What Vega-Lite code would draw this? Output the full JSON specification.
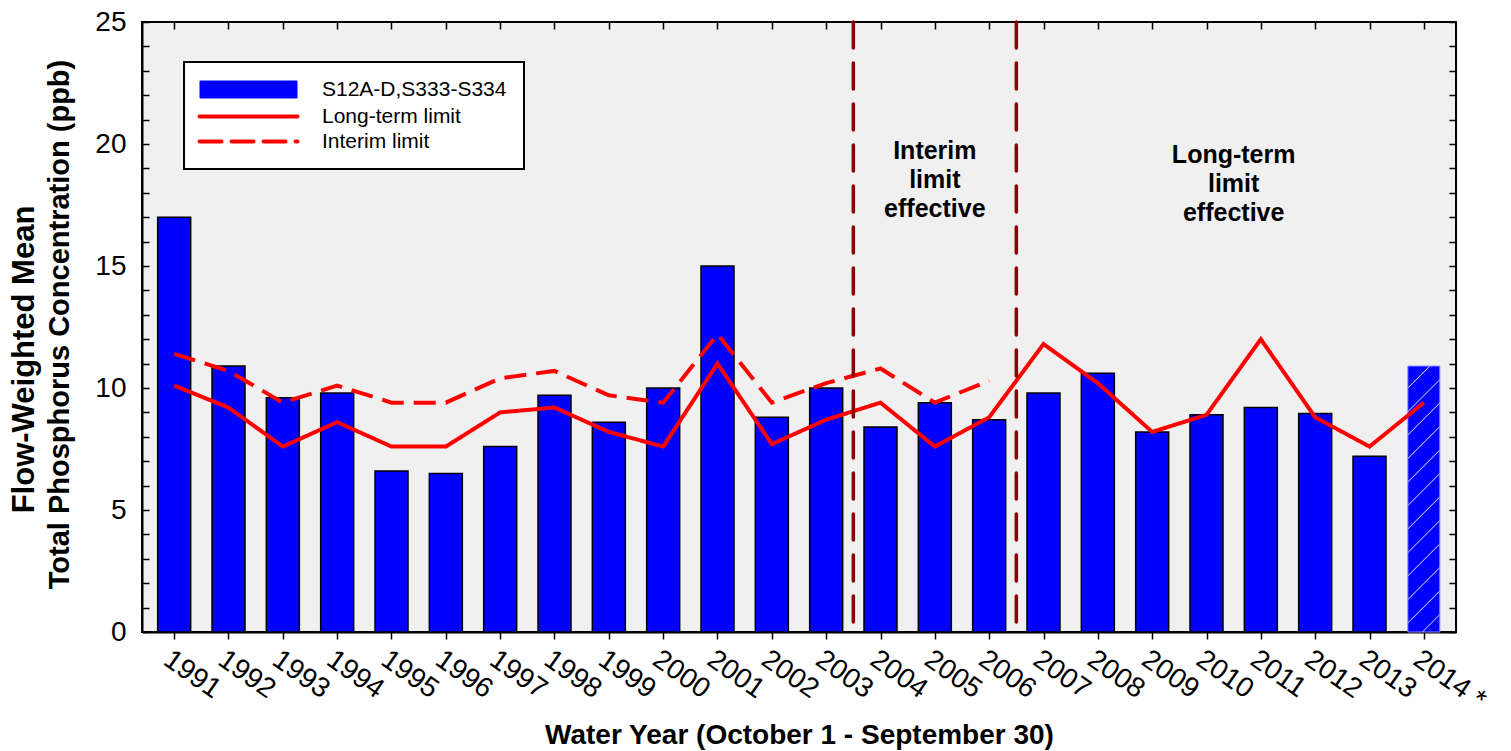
{
  "$schema": "https://vega.github.io/schema/vega-lite/v6.json",
  "width": 1314,
  "height": 610,
  "autosize": "none",
  "padding": {"left": 142, "top": 22, "right": 55, "bottom": 119},
  "background": "white",
  "config": {
    "view": {"fill": "#f0f0f0", "stroke": "black", "strokeWidth": 2},
    "font": "Liberation Sans",
    "axis": {"labelColor": "black", "titleColor": "black", "tickColor": "black", "domainColor": "black", "grid": false, "labelFont": "Liberation Sans", "titleFont": "Liberation Sans"},
    "legend": {
      "title": null, "orient": "none", "legendX": 42, "legendY": 40,
      "fillColor": "white", "strokeColor": "black", "padding": 17,
      "labelFont": "Liberation Sans", "labelFontSize": 21, "labelColor": "black", "labelLimit": 400,
      "symbolSize": 400, "symbolOffset": 37, "labelOffset": 63, "rowPadding": 3
    }
  },
  "datasets": {
    "tp": [
      {"year": 1991, "tp": 17.0}, {"year": 1992, "tp": 10.9}, {"year": 1993, "tp": 9.6}, {"year": 1994, "tp": 9.8},
      {"year": 1995, "tp": 6.6}, {"year": 1996, "tp": 6.5}, {"year": 1997, "tp": 7.6}, {"year": 1998, "tp": 9.7},
      {"year": 1999, "tp": 8.6}, {"year": 2000, "tp": 10.0}, {"year": 2001, "tp": 15.0}, {"year": 2002, "tp": 8.8},
      {"year": 2003, "tp": 10.0}, {"year": 2004, "tp": 8.4}, {"year": 2005, "tp": 9.4}, {"year": 2006, "tp": 8.7},
      {"year": 2007, "tp": 9.8}, {"year": 2008, "tp": 10.6}, {"year": 2009, "tp": 8.2}, {"year": 2010, "tp": 8.9},
      {"year": 2011, "tp": 9.2}, {"year": 2012, "tp": 8.95}, {"year": 2013, "tp": 7.2}, {"year": 2014, "tp": 10.9}
    ],
    "limits": [
      {"year": 1991, "series": "Long-term limit", "limit": 10.1},
      {"year": 1992, "series": "Long-term limit", "limit": 9.2},
      {"year": 1993, "series": "Long-term limit", "limit": 7.6},
      {"year": 1994, "series": "Long-term limit", "limit": 8.6},
      {"year": 1995, "series": "Long-term limit", "limit": 7.6},
      {"year": 1996, "series": "Long-term limit", "limit": 7.6},
      {"year": 1997, "series": "Long-term limit", "limit": 9.0},
      {"year": 1998, "series": "Long-term limit", "limit": 9.2},
      {"year": 1999, "series": "Long-term limit", "limit": 8.2},
      {"year": 2000, "series": "Long-term limit", "limit": 7.6},
      {"year": 2001, "series": "Long-term limit", "limit": 11.0},
      {"year": 2002, "series": "Long-term limit", "limit": 7.7},
      {"year": 2003, "series": "Long-term limit", "limit": 8.7},
      {"year": 2004, "series": "Long-term limit", "limit": 9.4},
      {"year": 2005, "series": "Long-term limit", "limit": 7.6},
      {"year": 2006, "series": "Long-term limit", "limit": 8.8},
      {"year": 2007, "series": "Long-term limit", "limit": 11.8},
      {"year": 2008, "series": "Long-term limit", "limit": 10.2},
      {"year": 2009, "series": "Long-term limit", "limit": 8.2},
      {"year": 2010, "series": "Long-term limit", "limit": 8.9},
      {"year": 2011, "series": "Long-term limit", "limit": 12.0},
      {"year": 2012, "series": "Long-term limit", "limit": 8.8},
      {"year": 2013, "series": "Long-term limit", "limit": 7.6},
      {"year": 2014, "series": "Long-term limit", "limit": 9.4},
      {"year": 1991, "series": "Interim limit", "limit": 11.4},
      {"year": 1992, "series": "Interim limit", "limit": 10.7},
      {"year": 1993, "series": "Interim limit", "limit": 9.4},
      {"year": 1994, "series": "Interim limit", "limit": 10.1},
      {"year": 1995, "series": "Interim limit", "limit": 9.4},
      {"year": 1996, "series": "Interim limit", "limit": 9.4},
      {"year": 1997, "series": "Interim limit", "limit": 10.4},
      {"year": 1998, "series": "Interim limit", "limit": 10.7},
      {"year": 1999, "series": "Interim limit", "limit": 9.7},
      {"year": 2000, "series": "Interim limit", "limit": 9.4},
      {"year": 2001, "series": "Interim limit", "limit": 12.2},
      {"year": 2002, "series": "Interim limit", "limit": 9.4},
      {"year": 2003, "series": "Interim limit", "limit": 10.2},
      {"year": 2004, "series": "Interim limit", "limit": 10.8},
      {"year": 2005, "series": "Interim limit", "limit": 9.4},
      {"year": 2006, "series": "Interim limit", "limit": 10.3}
    ],
    "boundaries": [{"boundary": 2003.5}, {"boundary": 2006.5}],
    "notes": [
      {"year": 2005, "value": 19.7, "note": "Interim\nlimit\neffective"},
      {"year": 2010.5, "value": 19.55, "note": "Long-term\nlimit\neffective"}
    ]
  },
  "resolve": {"axis": {"x": "independent", "y": "independent"}},
  "layer": [
    {
      "data": {"name": "tp"},
      "transform": [{"filter": "datum.year < 2014"}],
      "mark": {"type": "bar", "size": 33, "stroke": "black", "strokeWidth": 1.5},
      "encoding": {
        "x": {
          "field": "year", "type": "quantitative",
          "scale": {"domain": [1990.5, 2014.5], "nice": false, "zero": false},
          "axis": {
            "orient": "bottom",
            "values": [1991, 1992, 1993, 1994, 1995, 1996, 1997, 1998, 1999, 2000, 2001, 2002, 2003, 2004, 2005, 2006, 2007, 2008, 2009, 2010, 2011, 2012, 2013, 2014],
            "format": "d",
            "labelExpr": "datum.value == 2014 ? '2014 *' : datum.label",
            "labelAngle": 35, "labelAlign": "left", "labelBaseline": "top",
            "labelFontSize": 28, "labelPadding": 6, "labelOverlap": false, "labelFlush": false,
            "tickSize": 7, "tickWidth": 1.5, "domainWidth": 2,
            "title": "Water Year (October 1 - September 30)",
            "titleFontSize": 28, "titleFontWeight": "bold",
            "titleX": 657, "titleY": 111, "titleBaseline": "alphabetic", "titleAlign": "center"
          }
        },
        "y": {
          "field": "tp", "type": "quantitative",
          "scale": {"domain": [0, 25], "nice": false},
          "axis": {
            "orient": "left",
            "values": [0, 1, 2, 3, 4, 5, 6, 7, 8, 9, 10, 11, 12, 13, 14, 15, 16, 17, 18, 19, 20, 21, 22, 23, 24, 25],
            "labelExpr": "datum.value % 5 == 0 ? datum.label : ''",
            "labelFontSize": 28, "labelPadding": 23, "labelOverlap": false, "labelFlush": false,
            "tickSize": -7, "tickWidth": 1.5, "domainWidth": 2,
            "title": "Total Phosphorus Concentration (ppb)",
            "titleFontSize": 29, "titleFontWeight": "bold", "titleAngle": -90,
            "titleX": -83, "titleY": 302, "titleBaseline": "middle", "titleAlign": "center"
          }
        },
        "color": {
          "datum": "S12A-D,S333-S334", "type": "nominal",
          "scale": {"domain": ["S12A-D,S333-S334", "Long-term limit", "Interim limit"], "range": ["#0000ff", "#ff0000", "#ff0000"]},
          "legend": {
            "title": null,
            "encode": {
              "legend": {"update": {"strokeWidth": {"value": 2}}},
              "symbols": {"update": {
                "shape": {"signal": "datum.value == 'S12A-D,S333-S334' ? 'M-4.8,-0.8H4.8V0.8H-4.8Z' : 'M-4.9,0H4.9'"},
                "fill": {"signal": "datum.value == 'S12A-D,S333-S334' ? '#0000ff' : 'transparent'"},
                "stroke": {"signal": "datum.value == 'S12A-D,S333-S334' ? '#000000' : '#ff0000'"},
                "strokeWidth": {"signal": "datum.value == 'S12A-D,S333-S334' ? 2 : 4"},
                "strokeDash": {"signal": "datum.value == 'Interim limit' ? [22, 10] : [1, 0]"},
                "strokeCap": {"value": "round"},
                "opacity": {"value": 1}
              }}
            }
          }
        }
      }
    },
    {
      "data": {"name": "tp"},
      "transform": [{"filter": "datum.year == 2014"}],
      "mark": {
        "type": "bar", "size": 32, "stroke": "#8c8cff", "strokeWidth": 1,
        "fill": {
          "gradient": "linear", "x1": 0, "y1": 0, "x2": 0.1329, "y2": 1.1043,
          "stops": [
            {"offset": 0, "color": "#0000ff"},
            {"offset": 0.0698, "color": "#0000ff"}, {"offset": 0.0738, "color": "#c8c8ff"}, {"offset": 0.0778, "color": "#0000ff"},
            {"offset": 0.1487, "color": "#0000ff"}, {"offset": 0.1527, "color": "#c8c8ff"}, {"offset": 0.1567, "color": "#0000ff"},
            {"offset": 0.2275, "color": "#0000ff"}, {"offset": 0.2315, "color": "#c8c8ff"}, {"offset": 0.2355, "color": "#0000ff"},
            {"offset": 0.3064, "color": "#0000ff"}, {"offset": 0.3104, "color": "#c8c8ff"}, {"offset": 0.3144, "color": "#0000ff"},
            {"offset": 0.3853, "color": "#0000ff"}, {"offset": 0.3893, "color": "#c8c8ff"}, {"offset": 0.3933, "color": "#0000ff"},
            {"offset": 0.4641, "color": "#0000ff"}, {"offset": 0.4681, "color": "#c8c8ff"}, {"offset": 0.4721, "color": "#0000ff"},
            {"offset": 0.5430, "color": "#0000ff"}, {"offset": 0.5470, "color": "#c8c8ff"}, {"offset": 0.5510, "color": "#0000ff"},
            {"offset": 0.6218, "color": "#0000ff"}, {"offset": 0.6258, "color": "#c8c8ff"}, {"offset": 0.6298, "color": "#0000ff"},
            {"offset": 0.7007, "color": "#0000ff"}, {"offset": 0.7047, "color": "#c8c8ff"}, {"offset": 0.7087, "color": "#0000ff"},
            {"offset": 0.7796, "color": "#0000ff"}, {"offset": 0.7836, "color": "#c8c8ff"}, {"offset": 0.7876, "color": "#0000ff"},
            {"offset": 0.8584, "color": "#0000ff"}, {"offset": 0.8624, "color": "#c8c8ff"}, {"offset": 0.8664, "color": "#0000ff"},
            {"offset": 0.9373, "color": "#0000ff"}, {"offset": 0.9413, "color": "#c8c8ff"}, {"offset": 0.9453, "color": "#0000ff"},
            {"offset": 1, "color": "#0000ff"}
          ]
        }
      },
      "encoding": {
        "x": {"field": "year", "type": "quantitative", "axis": null},
        "y": {"field": "tp", "type": "quantitative", "axis": null}
      }
    },
    {
      "data": {"name": "limits"},
      "mark": {"type": "line", "strokeWidth": 4},
      "encoding": {
        "x": {
          "field": "year", "type": "quantitative",
          "axis": {
            "orient": "top",
            "values": [1991, 1992, 1993, 1994, 1995, 1996, 1997, 1998, 1999, 2000, 2001, 2002, 2003, 2004, 2005, 2006, 2007, 2008, 2009, 2010, 2011, 2012, 2013, 2014],
            "labels": false, "domain": false, "tickSize": -7, "tickWidth": 1.5, "title": null
          }
        },
        "y": {
          "field": "limit", "type": "quantitative",
          "axis": {
            "orient": "right",
            "values": [0, 1, 2, 3, 4, 5, 6, 7, 8, 9, 10, 11, 12, 13, 14, 15, 16, 17, 18, 19, 20, 21, 22, 23, 24, 25],
            "labels": false, "domain": false, "tickSize": -7, "tickWidth": 1.5, "title": null
          }
        },
        "color": {
          "field": "series", "type": "nominal",
          "legend": {
            "title": null,
            "encode": {
              "legend": {"update": {"strokeWidth": {"value": 2}}},
              "symbols": {"update": {
                "shape": {"signal": "datum.value == 'S12A-D,S333-S334' ? 'M-4.8,-0.8H4.8V0.8H-4.8Z' : 'M-4.9,0H4.9'"},
                "fill": {"signal": "datum.value == 'S12A-D,S333-S334' ? '#0000ff' : 'transparent'"},
                "stroke": {"signal": "datum.value == 'S12A-D,S333-S334' ? '#000000' : '#ff0000'"},
                "strokeWidth": {"signal": "datum.value == 'S12A-D,S333-S334' ? 2 : 4"},
                "strokeDash": {"signal": "datum.value == 'Interim limit' ? [22, 10] : [1, 0]"},
                "strokeCap": {"value": "round"},
                "opacity": {"value": 1}
              }}
            }
          }
        },
        "strokeDash": {
          "field": "series", "type": "nominal",
          "scale": {"domain": ["Long-term limit", "Interim limit"], "range": [[1, 0], [22, 10]]},
          "legend": null
        }
      }
    },
    {
      "data": {"name": "boundaries"},
      "mark": {"type": "rule", "color": "#8b0000", "strokeWidth": 3.5, "strokeDash": [26, 15], "strokeCap": "round"},
      "encoding": {
        "x": {"field": "boundary", "type": "quantitative", "axis": null}
      }
    },
    {
      "data": {"name": "notes"},
      "mark": {"type": "text", "font": "Liberation Sans", "fontSize": 25, "fontWeight": "bold", "lineBreak": "\n", "lineHeight": 29, "align": "center", "baseline": "middle", "color": "black"},
      "encoding": {
        "x": {"field": "year", "type": "quantitative", "axis": null},
        "y": {
          "field": "value", "type": "quantitative",
          "axis": {
            "orient": "left", "labels": false, "ticks": false, "domain": false,
            "title": "Flow-Weighted Mean",
            "titleFontSize": 31, "titleFontWeight": "bold", "titleAngle": -90,
            "titleX": -118, "titleY": 337, "titleBaseline": "middle", "titleAlign": "center"
          }
        },
        "text": {"field": "note", "type": "nominal"}
      }
    }
  ]
}
